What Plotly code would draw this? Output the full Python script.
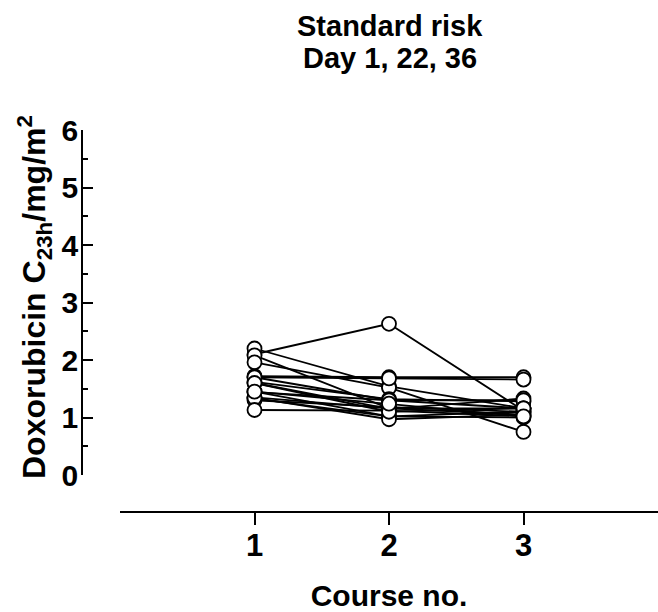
import plotly.graph_objects as go

courses = [1, 2, 3]
# Doxorubicin C23h per patient for course 1, 2, 3
course1 = [2.10, 2.20, 2.08, 1.96, 1.72, 1.70, 1.62, 1.60, 1.45, 1.44, 1.35, 1.33, 1.30, 1.34, 1.13, 1.70, 1.60, 1.45]
course2 = [2.63, 1.54, 1.16, 1.52, 1.70, 1.68, 1.32, 1.15, 1.02, 1.30, 1.16, 1.02, 1.18, 0.97, 1.12, 1.30, 1.10, 1.24]
course3 = [1.12, 1.16, 1.05, 0.75, 1.70, 1.66, 1.28, 1.33, 1.10, 1.30, 1.16, 1.00, 1.10, 1.05, 1.02, 1.16, 1.16, 1.02]

title_lines = ["Standard risk", "Day 1, 22, 36"]
x_title = "Course no."
y_title = "Doxorubicin C<sub>23h</sub>/mg/m<sup>2</sup>"
x_ticks = [1, 2, 3]
x_ticklabels = ["1", "2", "3"]
y_ticks = [0, 1, 2, 3, 4, 5, 6]

FONT = "Arial, Liberation Sans, Helvetica, sans-serif"

# One line trace (gaps between patients) and one marker trace so markers sit on top
lx, ly, mx, my = [], [], [], []
for a, b, c in zip(course1, course2, course3):
    vals = [a, b, c]
    lx += courses + [None]
    ly += vals + [None]
    mx += courses
    my += vals

fig = go.Figure()
fig.add_trace(go.Scatter(x=lx, y=ly, mode="lines",
                         line=dict(color="black", width=1.8),
                         hoverinfo="skip", showlegend=False))
fig.add_trace(go.Scatter(x=mx, y=my, mode="markers",
                         marker=dict(symbol="circle", size=14, color="white",
                                     line=dict(color="black", width=1.8)),
                         showlegend=False))

W, H = 658, 612
L, R, T, B = 82, 0, 130, 100
pw, ph = W - L - R, H - T - B

def px_to_paper_x(px):
    return (px - L) / pw

def px_to_paper_y(py):
    return (H - B - py) / ph

annotations = []
for text, cy in zip(title_lines, [26, 58]):
    annotations.append(dict(text=text, xref="paper", yref="paper",
                            x=px_to_paper_x(390), y=px_to_paper_y(cy),
                            xanchor="center", yanchor="middle", showarrow=False,
                            font=dict(size=29, family=FONT, weight="bold", color="black")))
annotations.append(dict(text=y_title, xref="paper", yref="paper",
                        x=px_to_paper_x(34), y=px_to_paper_y(297),
                        xanchor="center", yanchor="middle", textangle=-90, showarrow=False,
                        font=dict(size=32, family=FONT, weight="bold", color="black")))

fig.update_layout(
    width=W, height=H,
    margin=dict(l=L, r=R, t=T, b=B),
    paper_bgcolor="white", plot_bgcolor="white",
    font=dict(family=FONT, color="black", size=30, weight="bold"),
    annotations=annotations,
    xaxis=dict(domain=[(120 - L) / pw, 1], range=[0, 4], anchor="free", position=0,
               tickvals=x_ticks, ticktext=x_ticklabels,
               ticks="outside", ticklen=12, tickwidth=1.8, tickcolor="black",
               ticklabelstandoff=-6,
               showline=True, linecolor="black", linewidth=1.8,
               showgrid=False, zeroline=False,
               tickfont=dict(size=31, family=FONT, weight="bold"),
               title=dict(text=x_title, standoff=22,
                          font=dict(size=30, family=FONT, weight="bold"))),
    yaxis=dict(domain=[px_to_paper_y(475), 1], range=[0, 6], anchor="free", position=0,
               tickvals=y_ticks,
               ticks="inside", ticklen=10, tickwidth=1.8, tickcolor="black",
               ticklabelstandoff=-3,
               minor=dict(dtick=0.5, ticks="inside", ticklen=5, tickwidth=1.8, tickcolor="black"),
               showline=True, linecolor="black", linewidth=1.8,
               showgrid=False, zeroline=False,
               tickfont=dict(size=30, family=FONT, weight="bold")),
)

fig.write_html("out.html")
